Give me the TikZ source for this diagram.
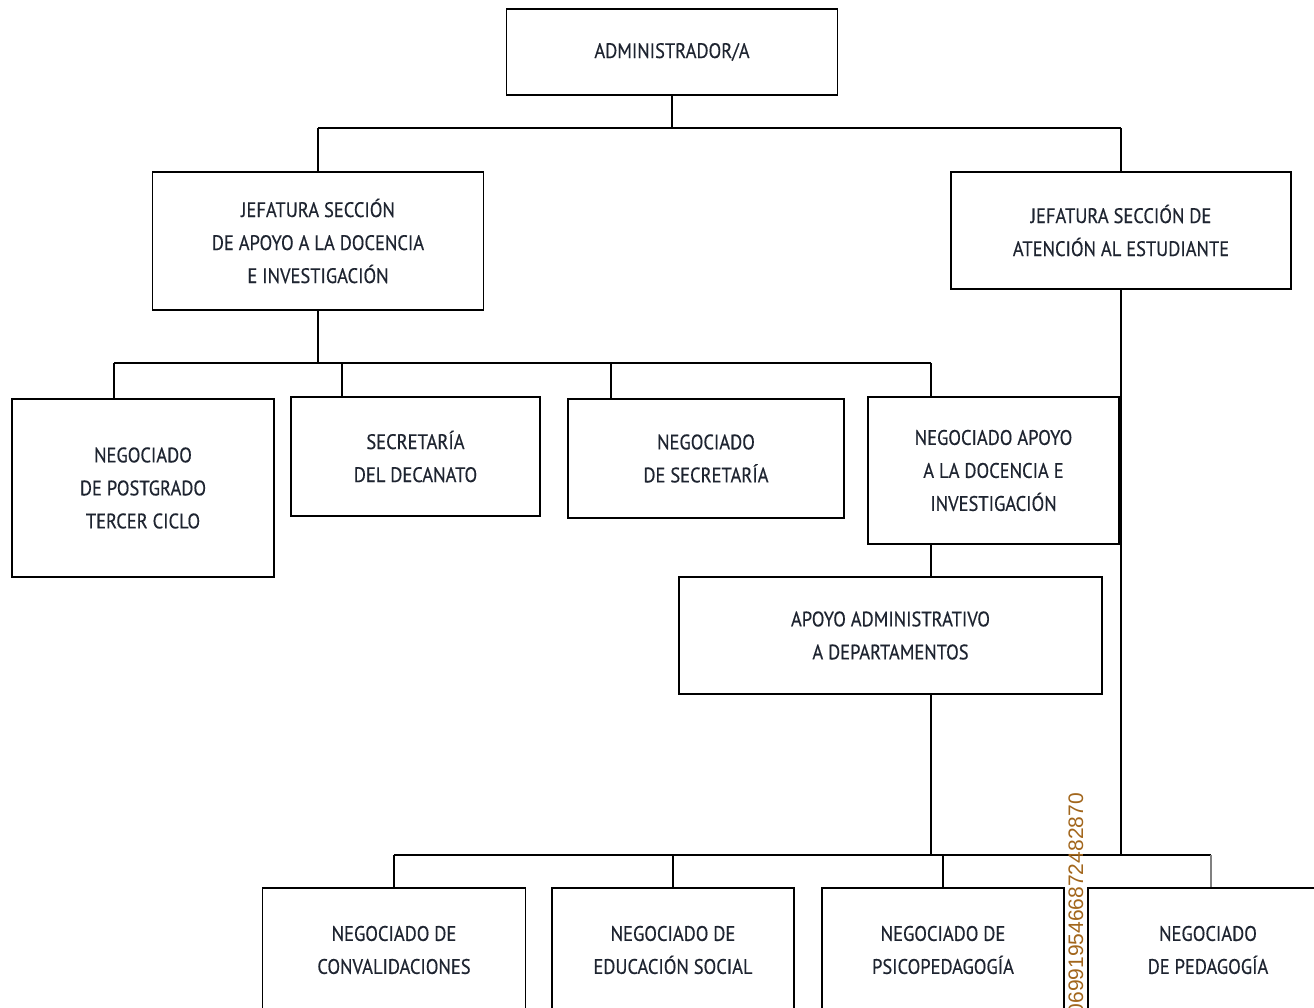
\documentclass[tikz,border=0pt]{standalone}
\usepackage{fontspec}
\setmainfont{PT Sans}[FakeStretch=0.88,FakeBold=0.4]
\newfontfamily\stampfont{Liberation Sans}
\usepackage{xcolor}
\usepackage{tikz}
\usetikzlibrary{positioning}
\definecolor{stampbrown}{HTML}{A2661C}
\definecolor{inkdark}{HTML}{1E2430}

\begin{document}
\begin{tikzpicture}[x=0.5pt,y=-0.5pt,line width=0.9pt,
        unit/.style={draw,rectangle,align=center,inner sep=2pt,text=inkdark,
                font=\fontsize{10.5}{16.5}\selectfont}]
        % page and frame
        \fill[white] (0,0) rectangle (1314,1008);
        \useasboundingbox (0,0) rectangle (1314,1008);
        \clip (0,0) rectangle (1314,1008);
        % top levels
        \node[unit,minimum width=165.5pt,minimum height=43pt](admin) at (672,52){ADMINISTRADOR/A};
        \node[unit,minimum width=165.5pt,minimum height=69pt](jef_doc) at (318,241){JEFATURA SECCIÓN\\DE APOYO A LA DOCENCIA\\E INVESTIGACIÓN};
        \node[unit,minimum width=170pt,minimum height=58.5pt](jef_est) at (1121,230.5){JEFATURA SECCIÓN DE\\ATENCIÓN AL ESTUDIANTE};
        % second row
        \node[unit,minimum width=131pt,minimum height=89pt](neg_post) at (143,488){NEGOCIADO\\DE POSTGRADO\\TERCER CICLO};
        \node[unit,minimum width=124.5pt,minimum height=59.5pt](sec_dec) at (415.5,456.5){SECRETARÍA\\DEL DECANATO};
        \node[unit,minimum width=138pt,minimum height=59.5pt](neg_sec) at (706,458.5){NEGOCIADO\\DE SECRETARÍA};
        \node[unit,minimum width=125.5pt,minimum height=73.5pt](neg_apo) at (993.5,470.5){NEGOCIADO APOYO\\A LA DOCENCIA E\\INVESTIGACIÓN};
        \node[unit,minimum width=211.5pt,minimum height=58.5pt](apo_adm) at (890.5,635.5){APOYO ADMINISTRATIVO\\A DEPARTAMENTOS};
        % bottom row
        \node[unit,minimum width=131.5pt,minimum height=62pt](conval) at (394,950){NEGOCIADO DE\\CONVALIDACIONES};
        \node[unit,minimum width=121pt,minimum height=62pt](educ) at (673,950){NEGOCIADO DE\\EDUCACIÓN SOCIAL};
        \node[unit,minimum width=121pt,minimum height=62pt](psico) at (943,950){NEGOCIADO DE\\PSICOPEDAGOGÍA};
        \node[unit,minimum width=120pt,minimum height=62pt](pedag) at (1208,950){NEGOCIADO\\DE PEDAGOGÍA};
        % buses
        \coordinate (bus1l) at (318,128);
        \coordinate (bus1r) at (1121,128);
        \coordinate (drop_post) at (114,363);
        \coordinate (drop_dec) at (342,363);
        \coordinate (drop_sec) at (611,363);
        \coordinate (drop_apo) at (931,363);
        \coordinate (bus3l) at (394,855);
        \coordinate (bus3r) at (1211,855);
        \draw (bus1l) -- (bus1r);
        \draw (admin.south) -- (admin.south |- bus1l);
        \draw (jef_doc.north |- bus1l) -- (jef_doc.north);
        \draw (jef_est.north |- bus1r) -- (jef_est.north);
        \draw (drop_post) -- (drop_apo);
        \draw (jef_doc.south) -- (jef_doc.south |- drop_post);
        \draw (drop_post) -- (drop_post |- neg_post.north);
        \draw (drop_dec) -- (drop_dec |- sec_dec.north);
        \draw (drop_sec) -- (drop_sec |- neg_sec.north);
        \draw (drop_apo) -- (drop_apo |- neg_apo.north);
        \draw (drop_apo |- neg_apo.south) -- (drop_apo |- apo_adm.north);
        \draw (drop_apo |- apo_adm.south) -- (drop_apo |- bus3l);
        \draw (bus3l) -- (bus3r);
        \draw (jef_est.south) -- (jef_est.south |- bus3l);
        \draw (conval.north |- bus3l) -- (conval.north);
        \draw (educ.north |- bus3l) -- (educ.north);
        \draw (psico.north |- bus3l) -- (psico.north);
        \draw[gray,line width=0.6pt] (bus3r) -- (bus3r |- pedag.north);
        % stamp
        \node[rotate=90,anchor=west,inner sep=0pt,text=stampbrown,
                font=\stampfont\fontsize{10.5}{12}\selectfont](stamp) at (1076,1016){0699195466872482870};
\end{tikzpicture}
\end{document}
